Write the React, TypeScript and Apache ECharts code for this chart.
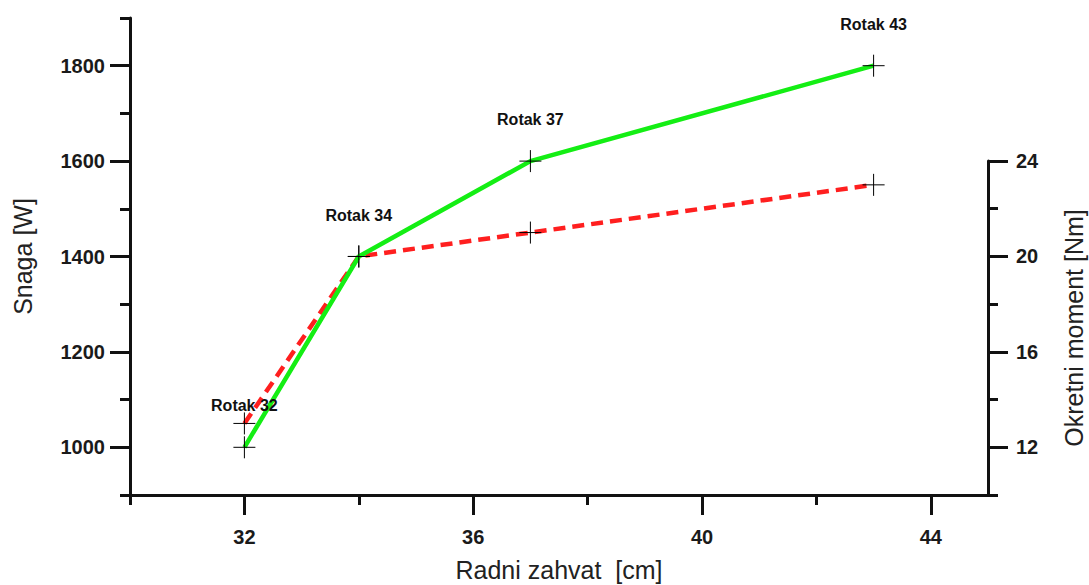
import React, { useEffect, useRef } from "react";
import * as echarts from "echarts";

const xValues = [32, 34, 37, 43];
const snaga = [1000, 1400, 1600, 1800];
const moment = [13, 20, 21, 23];
const pointNames = ["Rotak 32", "Rotak 34", "Rotak 37", "Rotak 43"];
const xMajor = [32, 36, 40, 44];
const xMinor = [30, 34, 38, 42];
const yLeftMajor = [1000, 1200, 1400, 1600, 1800];
const yLeftMinor = [900, 1100, 1300, 1500, 1700, 1900];
const yRightMajor = [12, 16, 20, 24];
const yRightMinor = [10, 14, 18, 22];

const FONT = "'Liberation Sans', Arial, sans-serif";
const AX = "#111";
const PLUS = "path://M10,0 L10,20 M0,10 L20,10";

export default function App() {
  const ref = useRef<HTMLDivElement>(null);
  useEffect(() => {
    if (!ref.current) return;
    const chart = echarts.init(ref.current, undefined, { renderer: "svg" });
    const lineAx = { show: true, lineStyle: { color: AX, width: 3 } };
    const labelStyle = {
      color: "#1a1a1a", fontFamily: FONT, fontWeight: "bold" as const, fontSize: 20,
      formatter: (v: number) => String(v),
    };
    const nameStyle = { color: "#222", fontFamily: FONT, fontSize: 25 };
    chart.setOption({
      animation: false,
      backgroundColor: "#fff",
      grid: [
        { left: 130, right: 101, top: 18, bottom: 90, outerBoundsMode: "none", containLabel: false },
        { left: 130, right: 101, top: 161, bottom: 90, outerBoundsMode: "none", containLabel: false },
      ],
      xAxis: [
        {
          type: "value", gridIndex: 0, position: "bottom", min: 30, max: 45,
          axisLine: lineAx,
          axisTick: { show: true, customValues: xMajor, length: 20, lineStyle: { color: AX, width: 3 } },
          axisLabel: { customValues: xMajor, margin: 32, ...labelStyle },
          splitLine: { show: false },
          name: "Radni zahvat  [cm]", nameLocation: "middle", nameGap: 62, nameTextStyle: nameStyle,
        },
        {
          type: "value", gridIndex: 0, position: "bottom", min: 30, max: 45,
          axisLine: { show: false },
          axisTick: { show: true, customValues: xMinor, length: 10, lineStyle: { color: AX, width: 3 } },
          axisLabel: { show: false },
          splitLine: { show: false },
        },
        { type: "value", gridIndex: 1, position: "bottom", min: 30, max: 45, show: false, splitLine: { show: false } },
      ],
      yAxis: [
        {
          type: "value", gridIndex: 0, position: "left", min: 900, max: 1900,
          axisLine: lineAx,
          axisTick: { show: true, customValues: yLeftMajor, length: 20, lineStyle: { color: AX, width: 3 } },
          axisLabel: { customValues: yLeftMajor, margin: 25, ...labelStyle },
          splitLine: { show: false },
          name: "Snaga [W]", nameLocation: "middle", nameGap: 95, nameTextStyle: nameStyle,
        },
        {
          type: "value", gridIndex: 0, position: "left", min: 900, max: 1900,
          axisLine: { show: false },
          axisTick: { show: true, customValues: yLeftMinor, length: 10, lineStyle: { color: AX, width: 3 } },
          axisLabel: { show: false },
          splitLine: { show: false },
        },
        {
          type: "value", gridIndex: 1, position: "right", min: 10, max: 24,
          axisLine: lineAx,
          axisTick: { show: true, customValues: yRightMajor, length: 20, lineStyle: { color: AX, width: 3 } },
          axisLabel: { customValues: yRightMajor, margin: 28, ...labelStyle },
          splitLine: { show: false },
          name: "Okretni moment [Nm]", nameLocation: "middle", nameGap: 73, nameRotate: 90, nameTextStyle: nameStyle,
        },
        {
          type: "value", gridIndex: 1, position: "right", min: 10, max: 24,
          axisLine: { show: false },
          axisTick: { show: true, customValues: yRightMinor, length: 10, lineStyle: { color: AX, width: 3 } },
          axisLabel: { show: false },
          splitLine: { show: false },
        },
      ],
      series: [
        {
          type: "line", xAxisIndex: 2, yAxisIndex: 2,
          data: xValues.map((x, i) => [x, moment[i]]),
          lineStyle: { color: "#ff1f1f", width: 4.5, type: [12, 7] },
          symbol: PLUS, symbolSize: 22,
          itemStyle: { color: "rgba(0,0,0,0)", borderColor: "#000", borderWidth: 1 },
          z: 2,
        },
        {
          type: "line", xAxisIndex: 0, yAxisIndex: 0,
          data: xValues.map((x, i) => [x, snaga[i]]),
          lineStyle: { color: "#14ee14", width: 4.5 },
          symbol: PLUS, symbolSize: 22,
          itemStyle: { color: "rgba(0,0,0,0)", borderColor: "#000", borderWidth: 1 },
          label: {
            show: true, position: "top", distance: 22,
            formatter: (p: any) => pointNames[p.dataIndex],
            color: "#111", fontFamily: FONT, fontWeight: "bold", fontSize: 16,
          },
          z: 3,
        },
      ],
    });
    return () => chart.dispose();
  }, []);
  return <div ref={ref} style={{ position: "fixed", left: 0, top: 0, width: 1089, height: 585 }} />;
}
